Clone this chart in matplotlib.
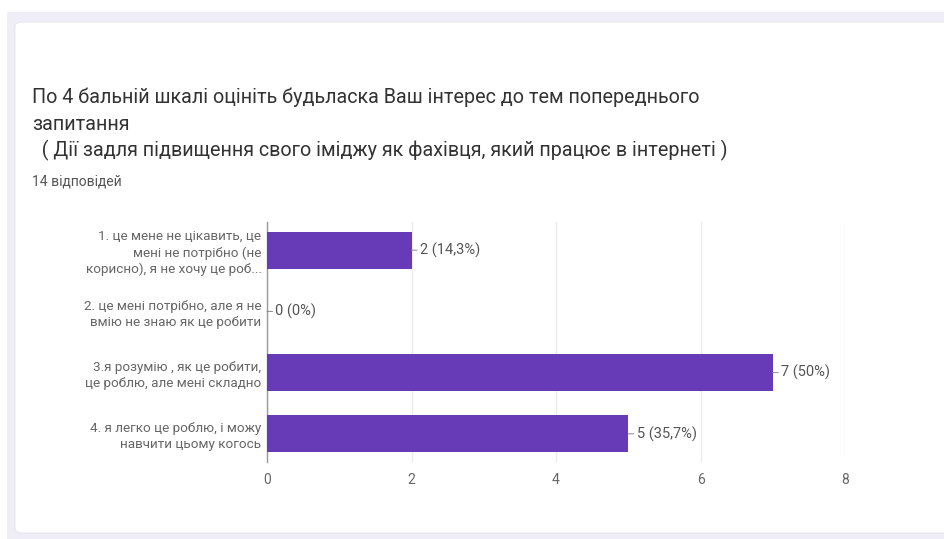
import matplotlib.pyplot as plt
from matplotlib.patches import FancyBboxPatch, Rectangle

plt.rcParams['font.family'] = ['Roboto', 'DejaVu Sans']

# Survey answers and counts
categories = [
    '1. це мене не цікавить, це\nмені не потрібно (не\nкорисно), я не хочу це роб...',
    '2. це мені потрібно, але я не\nвмію не знаю як це робити',
    '3.я розумію , як це робити,\nце роблю, але мені складно',
    '4. я легко це роблю, і можу\nнавчити цьому когось',
]
counts = [2, 0, 7, 5]
value_labels = ['2 (14,3%)', '0 (0%)', '7 (50%)', '5 (35,7%)']
x_ticks = [0, 2, 4, 6, 8]

title_lines = [
    'По 4 бальній шкалі оцініть будьласка Ваш інтерес до тем попереднього',
    'запитання',
    '  ( Дії задля підвищення свого іміджу як фахівця, який працює в інтернеті )',
]
subtitle = '14 відповідей'

W, H = 944, 539
fig = plt.figure(figsize=(W / 100, H / 100), dpi=100)
fig.patch.set_facecolor('white')

# page background and card
fig.patches.append(Rectangle((7 / W, 0), 1, 1 - 12 / H, transform=fig.transFigure,
                             facecolor='#eeedf8', edgecolor='none', zorder=0))
fig.patches.append(FancyBboxPatch((15 / W, 1 - 533 / H), (960 - 15) / W, (533 - 22) / H,
                                  boxstyle='round,pad=0,rounding_size=0.008',
                                  transform=fig.transFigure, facecolor='white',
                                  edgecolor='#e8e7f0', linewidth=0.8, zorder=0))

ys = [97, 124, 150]
for line, y in zip(title_lines, ys):
    fig.text(32 / W, 1 - y / H, line, fontsize=14.2, color='#333333', va='center', zorder=3)
fig.text(32 / W, 1 - 182 / H, subtitle, fontsize=10, color='#555555', va='center', zorder=3)

ax = fig.add_axes([267 / W, 1 - 462 / H, (845 - 267) / W, (462 - 222) / H])
ax.set_zorder(3)
ax.set_facecolor('none')
pos = list(range(len(categories)))
ax.barh(pos, counts, height=0.6, color='#673ab7', zorder=3)
ax.set_xlim(0, 8)
ax.set_ylim(3.46, -0.46)
ax.set_xticks(x_ticks)
ax.set_xticklabels([str(t) for t in x_ticks])
ax.set_yticks(pos)
ax.set_yticklabels(categories, fontsize=9.7, color='#555555', linespacing=1.3)
ax.tick_params(axis='both', length=0, colors='#666666')
ax.tick_params(axis='x', labelsize=10, pad=8)
ax.tick_params(axis='y', pad=4)
ax.grid(axis='x', color='#ebebeb', linewidth=1, zorder=0)
for s in ['top', 'right', 'bottom']:
    ax.spines[s].set_visible(False)
ax.spines['left'].set_color('#999999')
ax.spines['left'].set_linewidth(1)

# value labels with short leader line
for p, v, lab in zip(pos, counts, value_labels):
    ax.annotate(lab, xy=(v, p), xytext=(6, 0), textcoords='offset points',
                va='center', ha='left', fontsize=10.5, color='#555555',
                arrowprops=dict(arrowstyle='-', color='#888888', lw=0.7,
                                shrinkA=0, shrinkB=0))

fig.savefig('out.png', dpi=100)
